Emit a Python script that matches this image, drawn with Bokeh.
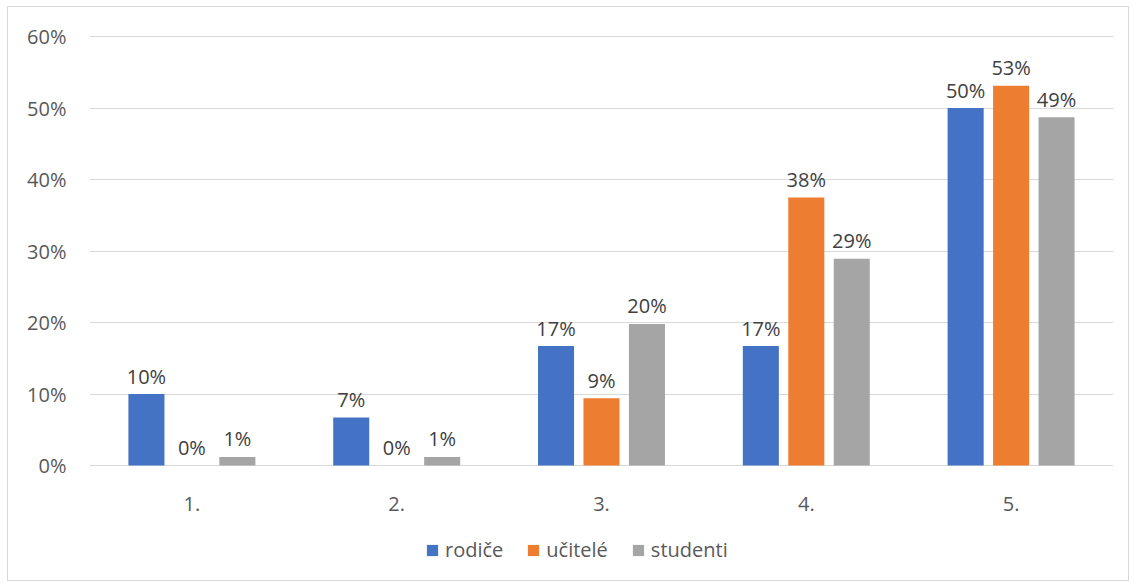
from bokeh.plotting import figure
from bokeh.models import (FactorRange, Range1d, ColumnDataSource, Legend, LegendItem,
                          PrintfTickFormatter, FixedTicker)
from bokeh.transform import dodge
from bokeh.core.properties import value
from bokeh.embed import file_html
from bokeh.resources import INLINE

categories = ["1.", "2.", "3.", "4.", "5."]
rodice = [10.0, 6.7, 16.7, 16.7, 50.0]
ucitele = [0.0, 0.0, 9.4, 37.5, 53.1]
studenti = [1.2, 1.2, 19.8, 28.9, 48.7]
series_names = ["rodiče", "učitelé", "studenti"]
colors = ["#4472C4", "#ED7D31", "#A5A5A5"]
y_ticks = [0, 10, 20, 30, 40, 50, 60]

FONT = "Open Sans"
FS = "20px"
PX_PER_UNIT = 7.15  # 10 % = 71.5 px

def lab(vals):
    return ["%d%%" % round(v) for v in vals]

src = ColumnDataSource(dict(
    cat=categories, zero=[0] * len(categories),
    rodice=rodice, ucitele=ucitele, studenti=studenti,
    l_r=lab(rodice), l_u=lab(ucitele), l_s=lab(studenti),
))

W, H = 1122, 575
TOP = 28
y_end = y_ticks[-1] + 1 / PX_PER_UNIT
y_start = y_end - (H - TOP) / PX_PER_UNIT

p = figure(x_range=FactorRange(*categories), y_range=Range1d(y_start, y_end),
           width=W, height=H, output_backend="svg", toolbar_location=None,
           min_border_left=81, min_border_right=17, min_border_top=TOP, min_border_bottom=0)
p.styles = {"border": "1px solid #D9D9D9", "margin-left": "7px", "margin-top": "6px"}
p.outline_line_color = None

offsets = [-0.222, 0.0, 0.222]
fields = ["rodice", "ucitele", "studenti"]
lfields = ["l_r", "l_u", "l_s"]
renderers = []
for off, f, lf, c in zip(offsets, fields, lfields, colors):
    r = p.vbar(x=dodge("cat", off, range=p.x_range), top=f, bottom=0, width=0.176, source=src,
               fill_color=c, line_color=None)
    renderers.append(r)
    p.text(x=dodge("cat", off, range=p.x_range), y=f, text=lf, source=src,
           text_align="center", text_baseline="alphabetic", y_offset=-18,
           text_font=value(FONT), text_font_size=FS, text_color="#404040")

# category labels under the 0 % line
p.text(x="cat", y="zero", text="cat", source=src, text_align="center",
       text_baseline="alphabetic", y_offset=38,
       text_font=value(FONT), text_font_size=FS, text_color="#595959")

p.ygrid.ticker = FixedTicker(ticks=y_ticks)
p.ygrid.grid_line_color = "#D9D9D9"
p.xgrid.grid_line_color = None
p.xaxis.visible = False

p.yaxis.ticker = FixedTicker(ticks=y_ticks)
p.yaxis.formatter = PrintfTickFormatter(format="%d%%")
ax = p.yaxis[0]
ax.axis_line_color = None
ax.major_tick_line_color = None
ax.minor_tick_line_color = None
ax.major_tick_out = 0
ax.major_tick_in = 0
ax.major_label_text_font = FONT
ax.major_label_text_font_size = FS
ax.major_label_text_color = "#595959"
ax.major_label_standoff = 23

legend = Legend(items=[LegendItem(label=n, renderers=[r]) for n, r in zip(series_names, renderers)],
                orientation="horizontal", location=(336, 19),
                glyph_width=14, glyph_height=14, label_standoff=6, spacing=23,
                padding=0, margin=0, border_line_color=None, background_fill_alpha=0,
                label_text_font=FONT, label_text_font_size=FS, label_text_color="#595959")
p.add_layout(legend, "center")

open("out.html", "w").write(file_html(p, INLINE))
